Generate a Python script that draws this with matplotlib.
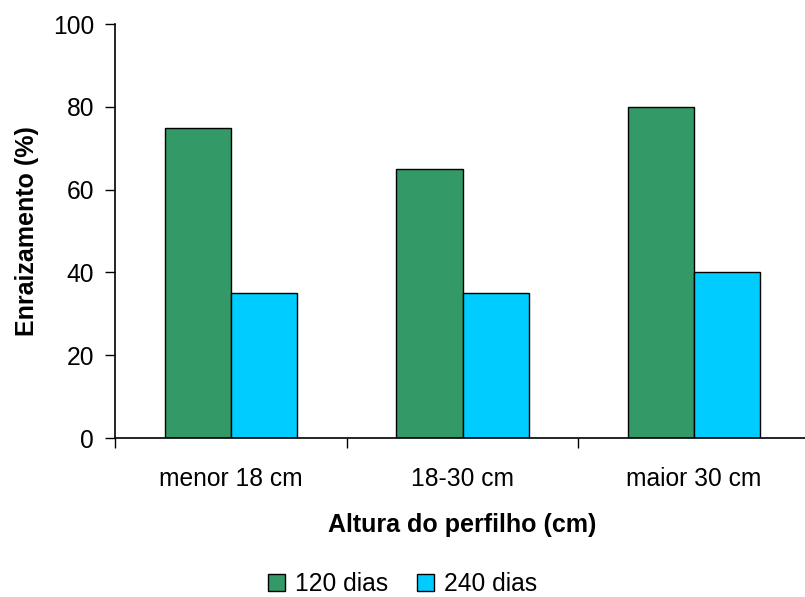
import numpy as np
import matplotlib
matplotlib.use("Agg")
import matplotlib.pyplot as plt

# dados
categorias = ["menor 18 cm", "18-30 cm", "maior 30 cm"]
dias_120 = [75, 65, 80]
dias_240 = [35, 35, 40]
series_labels = ["120 dias", "240 dias"]
yticks = [0, 20, 40, 60, 80, 100]

plt.rcParams['font.family'] = ['Liberation Sans', 'DejaVu Sans']

W, H = 805, 597
fig = plt.figure(figsize=(W / 100, H / 100), dpi=100)

# eixo: x de 115 a ~810 px (passa da borda), y de 438 a 24 px
ax = fig.add_axes([115 / W, (H - 438) / H, (810 - 115) / W, (438 - 24) / H])

x = np.arange(len(categorias))
largura = 0.285

ax.bar(x - largura / 2, dias_120, largura, color='#339966',
       edgecolor='black', linewidth=1.0, label=series_labels[0])
ax.bar(x + largura / 2, dias_240, largura, color='#00CCFF',
       edgecolor='black', linewidth=1.0, label=series_labels[1])

ax.set_xlim(-0.5, len(categorias) - 0.5)
ax.set_ylim(0, 100)
ax.set_yticks(yticks)

# rótulos no centro, marcas nos limites das categorias
ax.set_xticks(x)
ax.set_xticklabels(categorias)
ax.set_xticks(np.arange(len(categorias) + 1) - 0.5, minor=True)
ax.tick_params(axis='x', which='major', length=0, pad=21, labelsize=17.7)
ax.tick_params(axis='x', which='minor', length=7, width=1.0, direction='out')
ax.tick_params(axis='y', length=7, width=1.0, direction='out', pad=8, labelsize=17.7)

for lado in ['top', 'right']:
    ax.spines[lado].set_visible(False)
ax.spines['left'].set_linewidth(1.2)
ax.spines['bottom'].set_linewidth(1.2)
ax.spines['bottom'].set_clip_on(False)

ax.set_ylabel("Enraizamento (%)", fontsize=18, fontweight='bold', labelpad=10)
ax.set_xlabel("Altura do perfilho (cm)", fontsize=18, fontweight='bold', labelpad=16)

fig.legend(loc='lower center', bbox_to_anchor=(0.5, -0.036), ncol=2,
           frameon=False, fontsize=17.7, handlelength=0.7, handleheight=0.7,
           handletextpad=0.4, columnspacing=1.2)

fig.savefig("out.png", dpi=100)
